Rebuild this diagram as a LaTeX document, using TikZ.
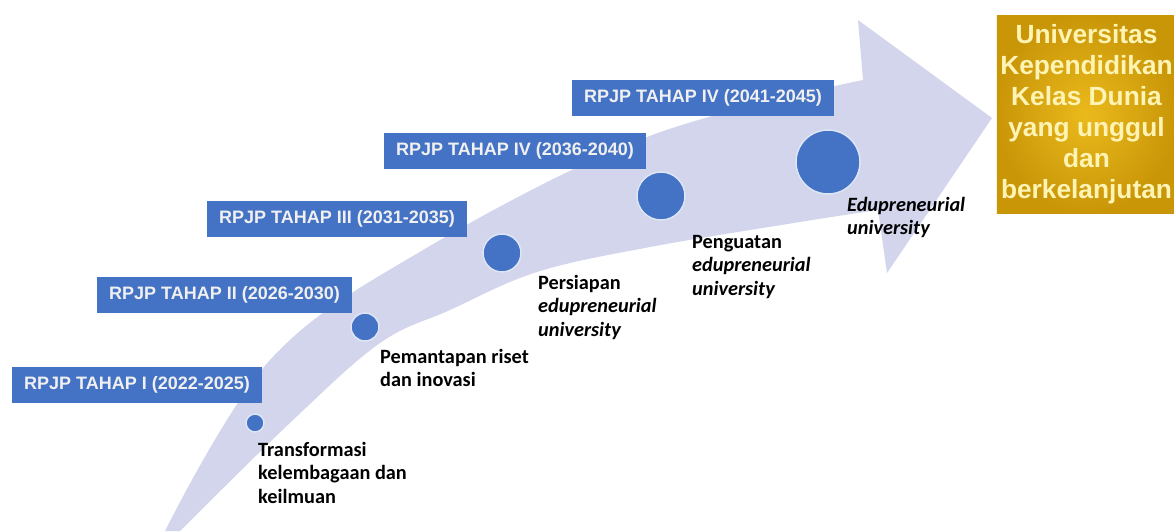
\documentclass[tikz,border=0pt]{standalone}
\usepackage{fontspec}
\setmainfont{Carlito}
\newfontfamily\headfont{Liberation Sans}
\definecolor{bandgray}{RGB}{210,213,236}
\definecolor{stageblue}{RGB}{68,114,196}
\definecolor{goldlight}{RGB}{234,186,28}
\definecolor{golddark}{RGB}{201,150,8}
\definecolor{goldtext}{RGB}{255,244,180}

\begin{document}
\begin{tikzpicture}[x=1pt,y=-1pt,
  phase/.style={fill=stageblue, text=white!94!black, anchor=west, inner xsep=12pt,
    minimum height=36pt, font=\headfont\bfseries\fontsize{18}{20}\selectfont},
  milestone/.style={circle, fill=stageblue, draw=white!82!stageblue, line width=1.5pt, inner sep=0pt},
  stagetext/.style={anchor=north west, align=left, inner sep=0pt,
    font=\bfseries\fontsize{20.3}{23.5}\selectfont},
  goalbox/.style={inner color=goldlight, outer color=golddark, text=goldtext, align=center,
    minimum width=175pt, minimum height=198pt, font=\headfont\bfseries\fontsize{26.3}{31}\selectfont}]
\useasboundingbox (0,0) rectangle (1174,531);
% curved arrow
\fill[bandgray] plot[smooth, tension=0.6] coordinates {(165,531) (270,360) (423,250) (647,137) (863,80)}
  -- (858,20) -- (992,118) -- (887,273) -- (878,210)
  -- plot[smooth, tension=0.6] coordinates {(878,210) (800,222) (650,247) (537,272) (450,310) (380,343) (293,420) (180,531)}
  -- cycle;
% stages
\node[phase] (t1) at (12,384.5) {RPJP TAHAP I (2022-2025)};
\node[phase] (t2) at (97,295) {RPJP TAHAP II (2026-2030)};
\node[phase] (t3) at (207,218.5) {RPJP TAHAP III (2031-2035)};
\node[phase] (t4) at (384,151) {RPJP TAHAP IV (2036-2040)};
\node[phase] (t5) at (572,97.5) {RPJP TAHAP IV (2041-2045)};
% milestones
\node[milestone, minimum size=18pt] (m1) at (255,423) {};
\node[milestone, minimum size=28pt] (m2) at (365,327) {};
\node[milestone, minimum size=38pt] (m3) at (502,253) {};
\node[milestone, minimum size=48pt] (m4) at (661,196) {};
\node[milestone, minimum size=64pt] (m5) at (828,162) {};
% texts
\node[stagetext] (s1) at (258,442) {Transformasi\\kelembagaan dan\\keilmuan};
\node[stagetext] (s2) at (380,349) {Pemantapan riset\\dan inovasi};
\node[stagetext] (s3) at (538,275) {Persiapan\\\textit{edupreneurial}\\\textit{university}};
\node[stagetext] (s4) at (692,235) {Penguatan\\\textit{edupreneurial}\\\textit{university}};
\node[stagetext] (s5) at (847,197) {\textit{Edupreneurial}\\\textit{university}};
% goal
\node[goalbox] (goal) at (1086.5,114) {Universitas\\Kependidikan\\Kelas Dunia\\yang unggul\\dan\\berkelanjutan};
\end{tikzpicture}
\end{document}
